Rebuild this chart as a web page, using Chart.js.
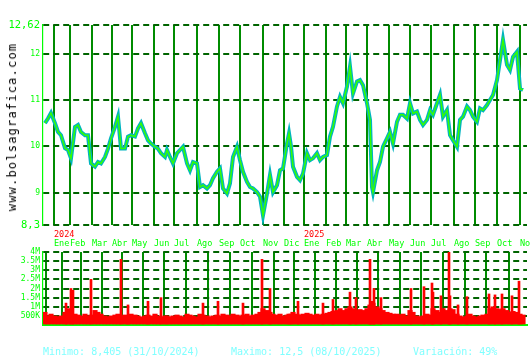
<!DOCTYPE html>
<html>
<head>
<meta charset="utf-8">
<script src="https://cdn.jsdelivr.net/npm/chart.js@4.4.0/dist/chart.umd.min.js"></script>
<style>
  body { margin: 0; background: #fff; width: 530px; height: 360px; position: relative; overflow: hidden; font-family: "DejaVu Sans Mono", monospace; }
  #price { position: absolute; left: 0; top: 0; }
  #volume { position: absolute; left: 0; top: 240px; }
  #site { position: absolute; left: 12px; top: 127px; transform: translate(-50%, -50%) rotate(-90deg); font-size: 12px; letter-spacing: 1.2px; color: #000; white-space: nowrap; }
  .stat { position: absolute; top: 346px; font-size: 10px; line-height: 12px; color: #80ffff; white-space: nowrap; }
</style>
</head>
<body>
<canvas id="price" width="530" height="250"></canvas>
<canvas id="volume" width="530" height="100"></canvas>
<div id="site">www.bolsagrafica.com</div>
<div class="stat" style="left:43px">Minimo: 8,405 (31/10/2024)</div>
<div class="stat" style="left:231px">Maximo: 12,5 (08/10/2025)</div>
<div class="stat" style="left:413px">Variación: 49%</div>
<script>
// x = trading-day index (one pixel per session roughly)
const monthStarts = [11, 27, 49, 69, 89, 111, 131, 154, 176, 197, 220, 241, 261, 283, 303, 324, 346, 367, 388, 411, 432, 454, 477];
const monthNames = ['Ene', 'Feb', 'Mar', 'Abr', 'May', 'Jun', 'Jul', 'Ago', 'Sep', 'Oct', 'Nov', 'Dic',
  'Ene', 'Feb', 'Mar', 'Abr', 'May', 'Jun', 'Jul', 'Ago', 'Sep', 'Oct', 'Nov'];
const yearStarts = [11, 261];
const yearNames = ['2024', '2025'];

const priceTicks = [8.3, 9, 10, 11, 12, 12.62];
const volTicks = [0, 0.5, 1, 1.5, 2, 2.5, 3, 3.5, 4];

const sessions = [2, 5, 8, 12, 15, 18, 22, 25, 28, 32, 35, 38, 42, 45, 48, 52, 55, 58, 62, 65, 68, 72, 75, 78, 82, 85, 88, 92, 95, 98, 102, 105, 108, 112, 115, 118, 122,
  124, 127, 130, 134, 137, 140, 144, 147, 150, 154, 157, 160, 164, 167, 170, 174, 177, 180, 184, 187, 190, 194, 197, 200, 204, 207, 210, 214, 217, 220, 224, 227, 230, 234, 237, 240, 244, 246,
  248, 250, 254, 257, 260, 264, 267, 270, 274, 277, 280, 284, 287, 290, 294, 297, 300, 304, 307, 310, 314, 317, 320, 324, 327, 329, 330, 334, 337, 340, 344, 347, 350, 354, 357, 360, 364,
  367, 370, 374, 377, 380, 384, 387, 390, 394, 397, 400, 404, 407, 410, 414, 417, 420, 424, 427, 430, 434, 437, 440, 444, 447, 450, 454, 457, 460, 464, 467, 470, 474, 477, 480];

const closes = [10.50, 10.60, 10.72, 10.50, 10.31, 10.24, 9.96, 9.92, 9.74, 10.42, 10.46, 10.31, 10.24, 10.24, 9.63, 9.56, 9.66, 9.63, 9.77, 9.95, 10.17, 10.42, 10.64, 9.95, 9.95, 10.21, 10.24, 10.21, 10.39, 10.50, 10.28, 10.13, 10.06, 9.99, 9.95, 9.85, 9.77,
  9.92, 9.77, 9.63, 9.85, 9.92, 9.99, 9.63, 9.48, 9.66, 9.63, 9.12, 9.16, 9.09, 9.16, 9.31, 9.45, 9.52, 9.09, 8.98, 9.20, 9.77, 9.99, 9.70, 9.45, 9.23, 9.12, 9.09, 9.01, 8.91, 8.51, 8.98, 9.38, 9.01, 9.16, 9.48, 9.52, 10.06, 10.28,
  10.00, 9.56, 9.34, 9.27, 9.41, 9.85, 9.70, 9.74, 9.85, 9.70, 9.77, 9.81, 10.21, 10.42, 10.86, 11.07, 10.93, 11.29, 11.72, 11.14, 11.40, 11.43, 11.32, 10.93, 10.57, 9.12, 9.01, 9.48, 9.66, 9.99, 10.17, 10.31, 10.06, 10.53, 10.68, 10.68, 10.60,
  10.93, 10.71, 10.75, 10.57, 10.46, 10.57, 10.78, 10.68, 10.93, 11.11, 10.64, 10.78, 10.24, 10.13, 9.99, 10.57, 10.64, 10.86, 10.78, 10.64, 10.53, 10.82, 10.78, 10.89, 11.00, 11.11, 11.43, 11.86, 12.30, 11.76, 11.65, 11.93, 12.04, 11.25, 11.22];

// volume in millions, one per sampled session
const volumes = [0.7, 0.5, 0.6, 0.5, 0.45, 0.5, 0.7, 0.9, 0.8, 0.6, 0.55, 0.5, 0.6, 0.5, 0.55, 0.8, 0.7, 0.6, 0.5, 0.45, 0.5, 0.55, 0.6, 0.5, 0.55, 0.5, 0.6, 0.55, 0.5, 0.45, 0.5, 0.55, 0.5, 0.6, 0.5, 0.45, 0.5,
  0.5, 0.45, 0.5, 0.55, 0.5, 0.45, 0.6, 0.55, 0.5, 0.45, 0.6, 0.55, 0.5, 0.45, 0.5, 0.55, 0.5, 0.6, 0.55, 0.5, 0.6, 0.55, 0.5, 0.55, 0.6, 0.5, 0.55, 0.6, 0.7, 0.9, 0.8, 0.7, 0.6, 0.55, 0.6, 0.5, 0.55, 0.6,
  0.6, 0.7, 0.6, 0.55, 0.6, 0.65, 0.6, 0.55, 0.6, 0.55, 0.6, 0.65, 0.7, 0.75, 0.8, 0.9, 0.8, 0.9, 1.0, 0.9, 0.8, 0.85, 0.8, 0.9, 1.1, 1.3, 1.2, 1.0, 0.9, 0.8, 0.7, 0.65, 0.6, 0.6, 0.55, 0.6, 0.5,
  0.8, 0.7, 0.5, 0.45, 0.5, 0.6, 0.55, 0.9, 0.8, 0.7, 0.9, 0.8, 0.9, 0.85, 0.6, 0.5, 0.45, 0.5, 0.6, 0.5, 0.45, 0.5, 0.55, 0.6, 0.9, 1.0, 0.9, 0.85, 0.9, 0.8, 0.7, 0.75, 0.7, 0.6, 0.55];

// single-day volume peaks
const spikeSessions = [23, 28, 30, 48, 78, 85, 105, 118, 160, 175, 200, 219, 227, 255, 280, 290, 307, 313, 327, 331, 338,
  368, 381, 389, 390, 398, 406, 407, 415, 424, 446, 452, 459, 469, 476];
const spikeVolumes = [1.2, 2.0, 1.9, 2.5, 3.6, 1.1, 1.3, 1.5, 1.2, 1.3, 1.2, 3.6, 2.0, 1.3, 1.2, 1.4, 1.8, 1.5, 3.6, 2.0, 1.5,
  2.0, 2.1, 2.3, 1.8, 1.6, 4.1, 1.6, 1.1, 1.55, 1.7, 1.65, 1.7, 1.6, 2.4];

const FONT = 'DejaVu Sans Mono';
const LIME = '#00ff00';
const XMIN = 0, XMAX = 484;

const monthLabels = {
  id: 'monthLabels',
  afterDraw(chart) {
    const { ctx, chartArea } = chart;
    const x = chart.scales.x;
    ctx.save();
    ctx.textAlign = 'left';
    ctx.textBaseline = 'middle';
    ctx.font = '8.5px "' + FONT + '"';
    ctx.fillStyle = LIME;
    monthStarts.forEach((m, i) => {
      ctx.fillText(monthNames[i], x.getPixelForValue(m), chartArea.bottom + 19);
    });
    ctx.fillStyle = '#ff0000';
    yearStarts.forEach((m, i) => {
      ctx.fillText(yearNames[i], x.getPixelForValue(m), chartArea.bottom + 10);
    });
    ctx.restore();
  }
};

const monthGrid = {
  type: 'linear',
  min: XMIN,
  max: XMAX,
  offset: false,
  afterBuildTicks: (s) => { s.ticks = monthStarts.map(v => ({ value: v })); },
  ticks: { display: false },
  grid: { color: '#008c00', lineWidth: 2, drawTicks: false },
};

new Chart(document.getElementById('price'), {
  type: 'line',
  data: {
    datasets: [
      {
        data: sessions.map((s, i) => ({ x: s, y: closes[i] })),
        borderColor: '#33ff00',
        borderWidth: 1.5,
        pointRadius: 0,
        order: 0,
      },
      {
        data: sessions.map((s, i) => ({ x: s, y: closes[i] })),
        borderColor: '#00b4c0',
        borderWidth: 4,
        pointRadius: 0,
        order: 1,
      },
    ],
  },
  options: {
    responsive: false,
    animation: false,
    layout: { padding: { top: 25, right: 3, left: 0, bottom: 0 } },
    plugins: { legend: { display: false }, tooltip: { enabled: false } },
    scales: {
      x: Object.assign({}, monthGrid, {
        border: { display: false },
        afterFit: (s) => { s.height = 25; },
      }),
      y: {
        min: 8.3,
        max: 12.62,
        afterBuildTicks: (s) => { s.ticks = priceTicks.map(v => ({ value: v })); },
        afterFit: (s) => { s.width = 43; },
        ticks: {
          color: LIME,
          padding: 3,
          autoSkip: false,
          font: (c) => ({ family: FONT, size: (c.tick && (c.tick.value === 8.3 || c.tick.value === 12.62)) ? 10.5 : 8 }),
          callback: (v) => String(v).replace('.', ','),
        },
        grid: { color: '#006400', lineWidth: 2, drawTicks: false },
        border: { color: LIME, width: 1.2, dash: [6, 4] },
      },
    },
  },
  plugins: [monthLabels],
});

new Chart(document.getElementById('volume'), {
  type: 'bar',
  data: {
    datasets: [
      {
        data: sessions.map((s, i) => ({ x: s, y: volumes[i] })),
        backgroundColor: '#ff0000',
        barThickness: 4.5,
      },
      {
        data: spikeSessions.map((s, i) => ({ x: s, y: spikeVolumes[i] })),
        backgroundColor: '#ff0000',
        barThickness: 2,
      },
    ],
  },
  options: {
    responsive: false,
    animation: false,
    grouped: false,
    layout: { padding: { top: 12, right: 3, left: 0, bottom: 0 } },
    plugins: { legend: { display: false }, tooltip: { enabled: false } },
    scales: {
      x: Object.assign({}, monthGrid, {
        border: { display: true, color: LIME, width: 2 },
        afterFit: (s) => { s.height = 15; },
      }),
      y: {
        min: 0,
        max: 4,
        afterBuildTicks: (s) => { s.ticks = volTicks.map(v => ({ value: v })); },
        afterFit: (s) => { s.width = 43; },
        ticks: {
          color: LIME,
          padding: 3,
          autoSkip: false,
          font: { family: FONT, size: 8 },
          callback: (v) => v === 0 ? '' : (v < 1 ? Math.round(v * 1000) + 'K' : v + 'M'),
        },
        grid: { color: '#006400', lineWidth: 2, drawTicks: false },
        border: { color: LIME, width: 1.2, dash: [6, 4] },
      },
    },
  },
});
</script>
</body>
</html>
